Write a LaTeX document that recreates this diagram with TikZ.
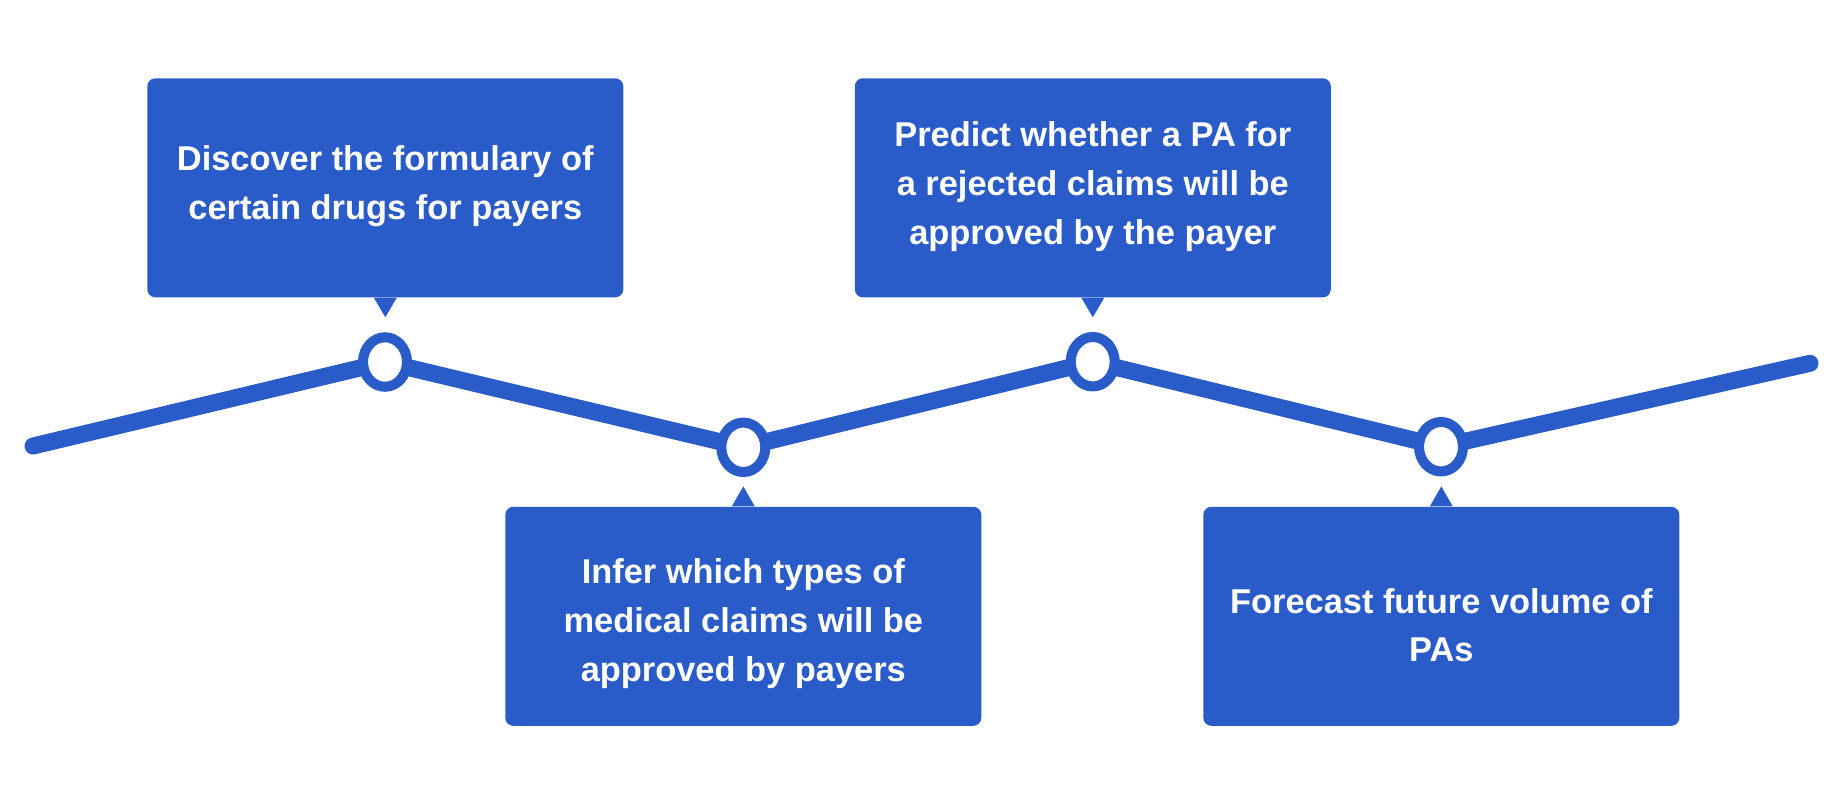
\documentclass[tikz,border=0pt]{standalone}
\usepackage{fontspec}
\setmainfont{Liberation Sans}
\usetikzlibrary{shapes.geometric}
\definecolor{tlblue}{RGB}{41,91,201}
\begin{document}
\begin{tikzpicture}[x=0.5pt,y=-0.5pt,
  card/.style={fill=tlblue, rounded corners=4pt, inner sep=0pt,
    minimum width=238pt, minimum height=109.5pt},
  cardtext/.style={text=white, anchor=base, align=center, inner sep=0pt,
    font=\bfseries\fontsize{17.2pt}{24.3pt}\selectfont},
  marker/.style={ellipse, draw=tlblue, line width=5pt, fill=white,
    inner sep=0pt, minimum width=22pt, minimum height=24.75pt},
  trend/.style={draw=tlblue, line width=8.5pt, line cap=round, line join=round}]
\useasboundingbox (0,0) rectangle (1847,800);

% cards above and below the trend line
\node[card] (b1) at (385.3,187.8) {};
\node[card] (b2) at (743.3,616.3) {};
\node[card] (b3) at (1092.8,187.8) {};
\node[card] (b4) at (1441.3,616.3) {};

% pointers from each card towards its marker
\fill[tlblue] (b1.south) ++(-11.5,0) -- ++(11.5,19.5) -- ++(11.5,-19.5) -- cycle;
\fill[tlblue] (b3.south) ++(-11.5,0) -- ++(11.5,19.5) -- ++(11.5,-19.5) -- cycle;
\fill[tlblue] (b2.north) ++(-11.5,0) -- ++(11.5,-20) -- ++(11.5,20) -- cycle;
\fill[tlblue] (b4.north) ++(-11.5,0) -- ++(11.5,-20) -- ++(11.5,20) -- cycle;

% card texts (placed by the baseline of their last line)
\node[cardtext] (t1) at (385.3,219) {Discover the formulary of\\certain drugs for payers};
\node[cardtext] (t2) at (743.3,681) {Infer which types of\\medical claims will be\\approved by payers};
\node[cardtext] (t3) at (1092.8,244) {Predict whether a PA  for\\a rejected claims will be\\approved by the payer};
\node[cardtext] (t4) at (1441.3,661.7) {Forecast future volume of\\PAs};

% trend line with markers
\coordinate (p0) at (33,446);
\coordinate (c1) at (385,362);
\coordinate (c2) at (743.3,447.3);
\coordinate (c3) at (1092.7,361.7);
\coordinate (c4) at (1441,446.7);
\coordinate (p5) at (1810,363.3);
\draw[trend] (p0) -- (c1) -- (c2) -- (c3) -- (c4) -- (p5);
\node[marker] (m1) at (c1) {};
\node[marker] (m2) at (c2) {};
\node[marker] (m3) at (c3) {};
\node[marker] (m4) at (c4) {};
\end{tikzpicture}
\end{document}
